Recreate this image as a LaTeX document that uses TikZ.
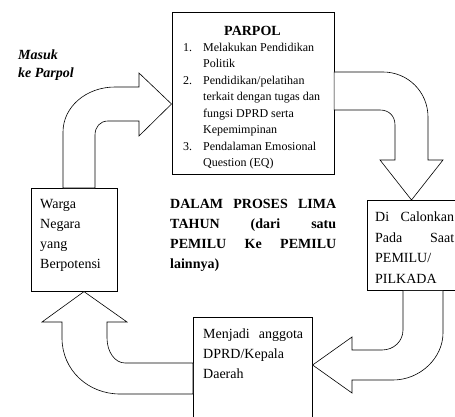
\documentclass[tikz,border=0pt]{standalone}
\usepackage{fontspec}
\setmainfont{Liberation Serif}

\begin{document}
\begin{tikzpicture}[x=1pt, y=-1pt,
    box/.style={draw, line width=0.6pt, inner sep=0pt, anchor=north west},
    blk/.style={draw, fill=white, line width=0.6pt, line join=miter},
    txt/.style={inner sep=0pt, anchor=north west, align=left, font=\fontsize{14}{20}\selectfont},
    jtxt/.style={txt, align=justify, execute at begin node={\tolerance=10000\hyphenpenalty=10000}}]
    \useasboundingbox (0,0) rectangle (455,417);
    \clip (0,0) rectangle (455,417);

    % the four boxes
    \node[box, minimum width=162pt, minimum height=162pt] (parpol) at (171.5,12) {};
    \node[box, minimum width=86pt, minimum height=103pt] (warga) at (31,188) {};
    \node[box, minimum width=100pt, minimum height=90pt] (dicalon) at (366.5,200) {};
    \node[box, minimum width=119pt, minimum height=120pt] (menjadi) at (193,317) {};

    % texts
    \node[txt, font=\fontsize{14}{18}\selectfont\bfseries\itshape] (masuk) at (18,46.4) {\strut Masuk\\ke Parpol};
    \node[txt, anchor=north, font=\fontsize{14}{20}\selectfont\bfseries] (parpoltitle) at (252.5,21) {\strut PARPOL};
    \node[txt, font=\fontsize{12}{16.5}\selectfont] (parpollist) at (183,39.5) {\strut\makebox[20pt][l]{1.}Melakukan Pendidikan\\
        \hspace*{20pt}Politik\\
        \makebox[20pt][l]{2.}Pendidikan/pelatihan\\
        \hspace*{20pt}terkait dengan tugas dan\\
        \hspace*{20pt}fungsi DPRD serta\\
        \hspace*{20pt}Kepemimpinan\\
        \makebox[20pt][l]{3.}Pendalaman Emosional\\
        \hspace*{20pt}Question (EQ)};
    \node[txt] (wargatext) at (40,194) {\strut Warga\\Negara\\yang\\Berpotensi};
    \node[jtxt, text width=166pt, font=\fontsize{14}{20}\selectfont\bfseries] (proses) at (170,194)
        {\noindent\strut DALAM PROSES LIMA\linebreak TAHUN (dari satu\linebreak PEMILU Ke PEMILU\linebreak lainnya)};
    \node[jtxt, text width=79pt, font=\fontsize{14}{20.5}\selectfont] (dicalontext) at (375,207)
        {\noindent\strut Di Calonkan Pada Saat PEMILU/ PILKADA};
    \node[jtxt, text width=100pt] (menjaditext) at (203,324)
        {\noindent\strut Menjadi anggota DPRD/Kepala Daerah};

    % block arrows
    \draw[blk] (warga.north -| 63,0) -- (63,132) .. controls (63,107) and (86,87) .. (115,87)
        -- (139,87) -- (139,73) -- (parpol.west |- 0,104) -- (139,136) -- (139,121) -- (108,121)
        .. controls (100,121) and (95,127) .. (95,135) -- (warga.north -| 95,0) -- cycle;
    \draw[blk] (parpol.east |- 0,72) -- (383,72) .. controls (408,72) and (428,92) .. (428,117)
        -- (428,160) -- (443,160) -- (dicalon.north -| 411.5,0) -- (380,160) -- (395,160) -- (395,125)
        .. controls (395,116) and (389,110) .. (380,110) -- (parpol.east |- 0,110) -- cycle;
    \draw[blk] (dicalon.south -| 403,0) -- (403,330) .. controls (403,341) and (394,350) .. (382,350)
        -- (352,350) -- (352,337) -- (menjadi.east |- 0,365) -- (352,393) -- (352,380) -- (393,380)
        .. controls (420,380) and (443,358) .. (443,333) -- (dicalon.south -| 443,0) -- cycle;
    \draw[blk] (menjadi.west |- 0,363) -- (125,363) .. controls (115,363) and (107,352) .. (107,338)
        -- (107,322) -- (127,322) -- (warga.south -| 84,0) -- (42,322) -- (62,322) -- (62,338)
        .. controls (62,370) and (88,394) .. (120,394) -- (menjadi.west |- 0,394) -- cycle;
\end{tikzpicture}
\end{document}
